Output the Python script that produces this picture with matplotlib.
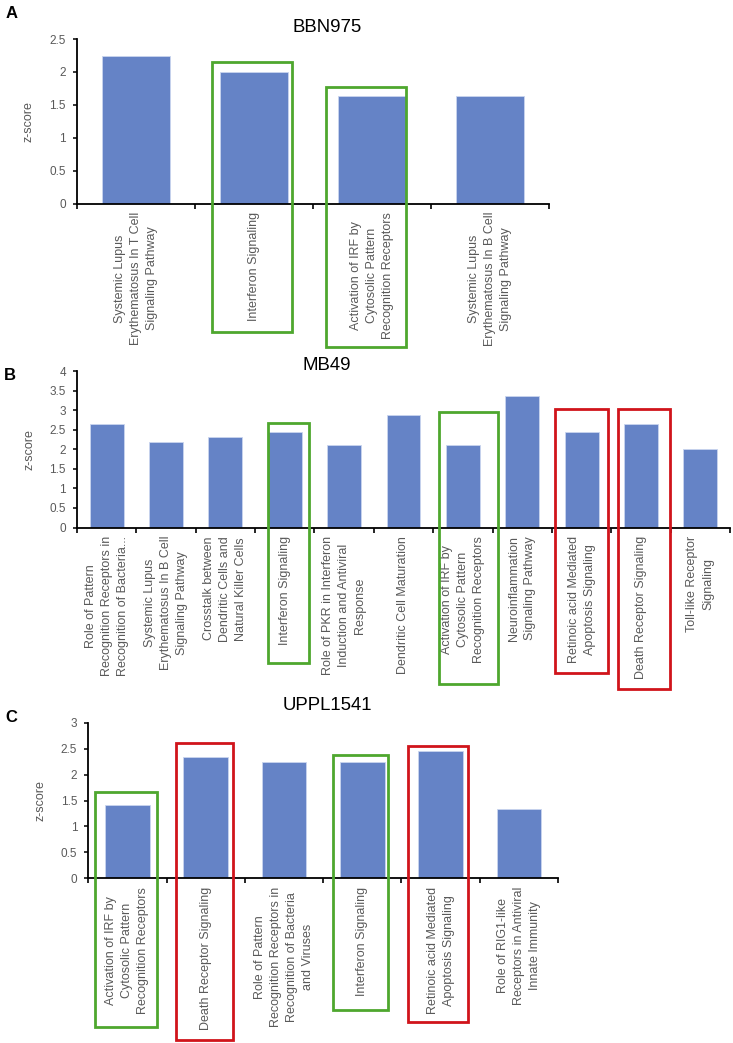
import numpy as np
import matplotlib.pyplot as plt
from matplotlib.patches import Rectangle
from matplotlib.ticker import FuncFormatter

plt.rcParams['font.family'] = ['Liberation Sans', 'DejaVu Sans']

# A - BBN975
bbn_labels = ["Systemic Lupus\nErythematosus In T Cell\nSignaling Pathway",
              "Interferon Signaling",
              "Activation of IRF by\nCytosolic Pattern\nRecognition Receptors",
              "Systemic Lupus\nErythematosus In B Cell\nSignaling Pathway"]
bbn_z = [2.236, 2.0, 1.633, 1.633]

# B - MB49
mb49_labels = ["Role of Pattern\nRecognition Receptors in\nRecognition of Bacteria...",
               "Systemic Lupus\nErythematosus In B Cell\nSignaling Pathway",
               "Crosstalk between\nDendritic Cells and\nNatural Killer Cells",
               "Interferon Signaling",
               "Role of PKR in Interferon\nInduction and Antiviral\nResponse",
               "Dendritic Cell Maturation",
               "Activation of IRF by\nCytosolic Pattern\nRecognition Receptors",
               "Neuroinflammation\nSignaling Pathway",
               "Retinoic acid Mediated\nApoptosis Signaling",
               "Death Receptor Signaling",
               "Toll-like Receptor\nSignaling"]
mb49_z = [2.646, 2.183, 2.309, 2.449, 2.121, 2.887, 2.121, 3.357, 2.449, 2.646, 2.0]

# C - UPPL1541
uppl_labels = ["Activation of IRF by\nCytosolic Pattern\nRecognition Receptors",
               "Death Receptor Signaling",
               "Role of Pattern\nRecognition Receptors in\nRecognition of Bacteria\nand Viruses",
               "Interferon Signaling",
               "Retinoic acid Mediated\nApoptosis Signaling",
               "Role of RIG1-like\nReceptors in Antiviral\nInnate Immunity"]
uppl_z = [1.414, 2.333, 2.236, 2.236, 2.449, 1.342]

BAR = '#6583c6'
GREEN = '#4ea72e'
RED = '#d0141b'
GREY = '#595959'

# highlight boxes: category, colour, left/right offset, top, bottom (data units)
bbn_boxes = [(1, GREEN, -0.36, 0.32, 2.155, -1.96),
             (2, GREEN, -0.39, 0.29, 1.77, -2.18)]
mb49_boxes = [(3, GREEN, -0.29, 0.40, 2.68, -3.47),
              (6, GREEN, -0.41, 0.60, 2.95, -4.0),
              (8, RED, -0.44, 0.45, 3.02, -3.72),
              (9, RED, -0.39, 0.49, 3.03, -4.13)]
uppl_boxes = [(0, GREEN, -0.415, 0.373, 1.67, -2.86),
              (1, RED, -0.385, 0.35, 2.60, -3.12),
              (3, GREEN, -0.375, 0.33, 2.38, -2.54),
              (4, RED, -0.42, 0.35, 2.55, -2.78)]


def draw_panel(ax, labels, values, ytop, boxes, ylab_x):
    n = len(values)
    x = np.arange(n)
    ax.bar(x, values, width=0.57, color=BAR, edgecolor='#c9d5ee', linewidth=0.6, zorder=2)
    ax.set_xlim(-0.5, n - 0.5)
    ax.set_ylim(0, ytop)
    ax.set_xticks(x)
    ax.set_xticklabels(labels, rotation=90, ha='center', va='top',
                       multialignment='center', fontsize=9, color=GREY)
    for t in ax.get_xticklabels():
        t.set_linespacing(1.45)
    ax.set_xticks(np.arange(n + 1) - 0.5, minor=True)
    ax.tick_params(axis='x', which='major', length=0, pad=6)
    ax.tick_params(axis='x', which='minor', length=3.5, width=1.2, direction='out')
    ax.set_yticks(np.arange(0, ytop + 0.01, 0.5))
    ax.yaxis.set_major_formatter(FuncFormatter(lambda v, p: f'{v:g}'))
    ax.tick_params(axis='y', length=3, width=1.1, labelsize=8.5, labelcolor=GREY, pad=5)
    for s in ['top', 'right']:
        ax.spines[s].set_visible(False)
    for s in ['left', 'bottom']:
        ax.spines[s].set_linewidth(1.3)
        ax.spines[s].set_color('black')
    ax.set_ylabel('z-score', fontsize=9, color=GREY)
    ax.yaxis.set_label_coords(ylab_x, 0.5)
    for cat, col, l, r, top, bot in boxes:
        ax.add_patch(Rectangle((cat + l, bot), r - l, top - bot, fill=False,
                               edgecolor=col, linewidth=2.0, clip_on=False, zorder=3))


fig = plt.figure(figsize=(7.33, 10.43), dpi=100)
W, H = 733, 1043

axA = fig.add_axes([77 / W, 1 - 203.5 / H, 472 / W, 164.5 / H])
axB = fig.add_axes([77 / W, 1 - 527.5 / H, 653 / W, 156.5 / H])
axC = fig.add_axes([88.3 / W, 1 - 878.3 / H, 469.7 / W, 155.6 / H])

draw_panel(axA, bbn_labels, bbn_z, 2.5, bbn_boxes, -0.089)
draw_panel(axB, mb49_labels, mb49_z, 4, mb49_boxes, -0.064)
draw_panel(axC, uppl_labels, uppl_z, 3, uppl_boxes, -0.090)

for title, y in [('BBN975', 28), ('MB49', 365), ('UPPL1541', 706)]:
    fig.text(327 / W, 1 - y / H, title, ha='center', va='center', fontsize=13.4)
for lab, x, y in [('A', 12, 13), ('B', 10, 375), ('C', 11, 717)]:
    fig.text(x / W, 1 - y / H, lab, ha='center', va='center', fontsize=12, fontweight='bold')

fig.savefig('out.png', dpi=100)
